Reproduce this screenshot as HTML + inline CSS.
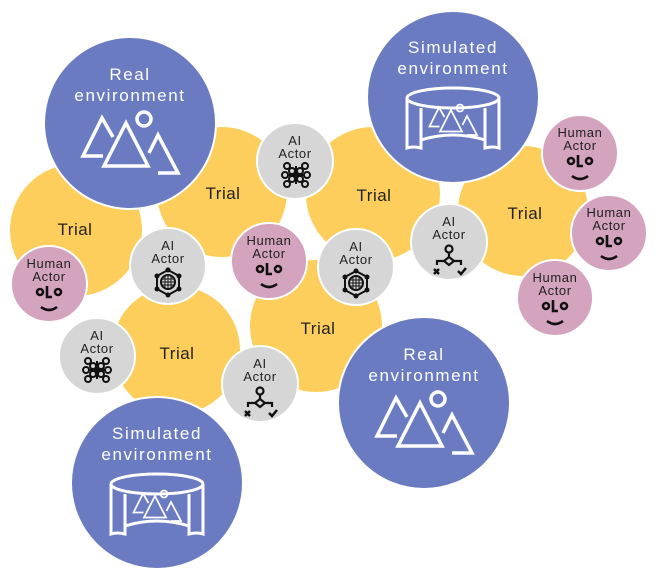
<!DOCTYPE html>
<html><head><meta charset="utf-8"><style>
html,body{margin:0;padding:0;background:#fff;}
svg{display:block;font-family:"Liberation Sans",sans-serif;}
.env{fill:#fff;font-size:17px;letter-spacing:1.6px;text-anchor:middle;}
.tr{fill:#222;font-size:17px;letter-spacing:0.5px;text-anchor:middle;}
.ac{fill:#222;font-size:13px;letter-spacing:0.6px;text-anchor:middle;}
</style></head><body>
<svg width="656" height="574" viewBox="0 0 656 574">
<defs>
<g id="mnt" fill="none" stroke="#fff" stroke-width="3.5">
  <polyline points="-17,14 -28,-5 -47,33 -27,33"/>
  <polygon points="-4,0 -26,43 18,43"/>
  <circle cx="14" cy="-4" r="7"/>
  <polyline points="19,30 28,12 48,50 28,50"/>
</g>
<g id="cyl" fill="none" stroke="#fff" stroke-width="3">
  <ellipse cx="0" cy="0" rx="46" ry="10"/>
  <path d="M-46,0 L-46,50 Q-40,48 -32,50 L-32,42 Q0,32 32,42 L32,50 Q40,48 46,50 L46,0"/>
  <path d="M-32,10 L-32,42 M32,10 L32,42"/>
  <g transform="translate(0,12) scale(0.5)"><use href="#mnt"/></g>
</g>
<g id="face" fill="none" stroke="#111" stroke-width="2.6">
  <circle cx="-9" cy="6" r="3"/><circle cx="9" cy="6" r="3"/>
  <path d="M-2,0 L-2,11 L3,11"/>
  <path d="M-8,21 Q0,27 8,21"/>
</g>
<g id="hex" fill="none" stroke="#111" stroke-width="2">
  <polygon points="0,-12 11,-6 11,7 0,13 -11,7 -11,-6"/>
  <circle cx="0" cy="0" r="7"/>
  <path d="M-6,-3 H6 M-7,0 H7 M-6,3 H6 M-3,-6 V6 M0,-7 V7 M3,-6 V6" stroke-width="1"/>
  <g fill="#111" stroke="none">
  <circle cx="0" cy="-12" r="2.5"/><circle cx="11" cy="-6" r="2.5"/><circle cx="11" cy="7" r="2.5"/>
  <circle cx="0" cy="13" r="2.5"/><circle cx="-11" cy="7" r="2.5"/><circle cx="-11" cy="-6" r="2.5"/></g>
</g>
<g id="nn" fill="#d6d6d6" stroke="#111" stroke-width="2">
  <path d="M-9,-9 L9,9 M9,-9 L-9,9 M-9,0 H9 M0,-9 V9" fill="none"/>
  <circle cx="-9" cy="-9" r="3"/><circle cx="9" cy="-9" r="3"/><circle cx="-9" cy="9" r="3"/><circle cx="9" cy="9" r="3"/>
  <circle cx="-11" cy="0" r="3"/><circle cx="11" cy="0" r="3"/><circle cx="-4" cy="-4" r="3"/><circle cx="4" cy="-4" r="3"/>
  <circle cx="-4" cy="4" r="3"/><circle cx="4" cy="4" r="3"/>
</g>
<g id="dec" fill="none" stroke="#111" stroke-width="2.2">
  <circle cx="0" cy="-8" r="3.5"/>
  <path d="M0,-4 V0 M-5,4 L0,0 L5,4 L0,8 Z M-5,4 H-12 V8 M5,4 H12 V8"/>
  <path d="M-15,12 L-10,17 M-10,12 L-15,17" stroke-width="2.5"/>
  <path d="M9,14 L12,17 L17,11" stroke-width="2.5"/>
</g>
</defs>

<g fill="#fdce5c" stroke="#fff" stroke-width="2">
  <circle cx="76" cy="230" r="67"/>
  <circle cx="222" cy="192" r="66"/>
  <circle cx="373" cy="194" r="68"/>
  <circle cx="523" cy="211" r="66"/>
  <circle cx="176" cy="350" r="65"/>
  <circle cx="316" cy="326" r="67"/>
</g>
<g class="tr">
  <text x="75" y="235">Trial</text>
  <text x="223" y="199">Trial</text>
  <text x="374" y="201">Trial</text>
  <text x="525" y="219">Trial</text>
  <text x="177" y="359">Trial</text>
  <text x="318" y="334">Trial</text>
</g>

<g fill="#6a7bc2" stroke="#fff" stroke-width="2">
  <circle cx="130" cy="123" r="86"/>
  <circle cx="453" cy="97" r="86"/>
  <circle cx="424" cy="403" r="86"/>
  <circle cx="157" cy="483" r="86"/>
</g>
<g class="env">
  <text x="130" y="80">Real</text><text x="130" y="101">environment</text>
  <text x="453" y="53">Simulated</text><text x="453" y="74">environment</text>
  <text x="424" y="360">Real</text><text x="424" y="381">environment</text>
  <text x="157" y="439">Simulated</text><text x="157" y="460">environment</text>
</g>
<use href="#mnt" transform="translate(130,123)"/>
<use href="#mnt" transform="translate(424,403)"/>
<use href="#cyl" transform="translate(453,98)"/>
<use href="#cyl" transform="translate(157,484)"/>

<g stroke="#fff" stroke-width="2">
  <circle cx="295" cy="161" r="38" fill="#d6d6d6"/>
  <circle cx="168" cy="266" r="38" fill="#d6d6d6"/>
  <circle cx="356" cy="267" r="38" fill="#d6d6d6"/>
  <circle cx="449" cy="242" r="38" fill="#d6d6d6"/>
  <circle cx="97" cy="356" r="38" fill="#d6d6d6"/>
  <circle cx="260" cy="384" r="38" fill="#d6d6d6"/>
  <circle cx="49" cy="284" r="38" fill="#d4a3be"/>
  <circle cx="269" cy="261" r="38" fill="#d4a3be"/>
  <circle cx="580" cy="153" r="38" fill="#d4a3be"/>
  <circle cx="609" cy="233" r="38" fill="#d4a3be"/>
  <circle cx="555" cy="298" r="38" fill="#d4a3be"/>
</g>
<g class="ac">
  <text x="295" y="145">AI</text><text x="295" y="158">Actor</text>
  <text x="168" y="250">AI</text><text x="168" y="263">Actor</text>
  <text x="356" y="251">AI</text><text x="356" y="264">Actor</text>
  <text x="449" y="226">AI</text><text x="449" y="239">Actor</text>
  <text x="97" y="340">AI</text><text x="97" y="353">Actor</text>
  <text x="260" y="368">AI</text><text x="260" y="381">Actor</text>
  <text x="49" y="268">Human</text><text x="49" y="281">Actor</text>
  <text x="269" y="245">Human</text><text x="269" y="258">Actor</text>
  <text x="580" y="137">Human</text><text x="580" y="150">Actor</text>
  <text x="609" y="217">Human</text><text x="609" y="230">Actor</text>
  <text x="555" y="282">Human</text><text x="555" y="295">Actor</text>
</g>
<use href="#nn" transform="translate(296,175)"/>
<use href="#hex" transform="translate(168,282)"/>
<use href="#hex" transform="translate(356,283)"/>
<use href="#dec" transform="translate(449,257)"/>
<use href="#nn" transform="translate(97,370)"/>
<use href="#dec" transform="translate(260,399)"/>
<use href="#face" transform="translate(49,286)"/>
<use href="#face" transform="translate(269,263)"/>
<use href="#face" transform="translate(580,155)"/>
<use href="#face" transform="translate(609,235)"/>
<use href="#face" transform="translate(555,300)"/>
</svg>
</body></html>
